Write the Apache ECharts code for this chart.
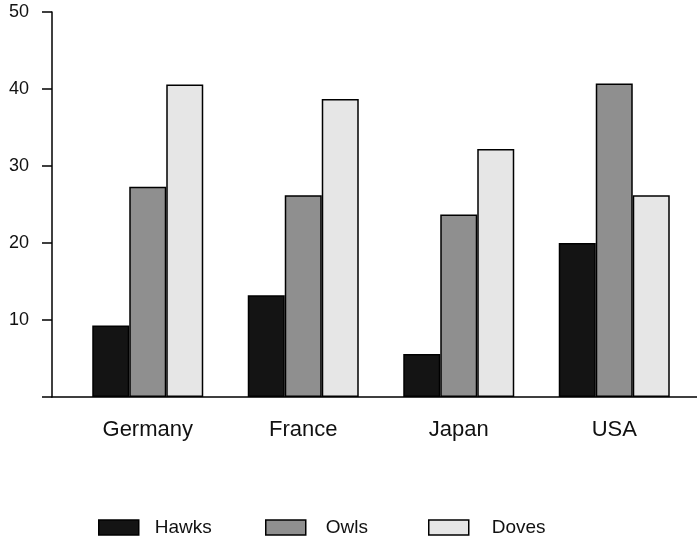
<!DOCTYPE html>
<html>
<head>
<meta charset="utf-8">
<script src="https://cdn.jsdelivr.net/npm/echarts@6/dist/echarts.min.js"></script>
<style>
html,body{margin:0;padding:0;background:#fff;}
#chart{width:697px;height:538px;}
</style>
</head>
<body>
<div id="chart"></div>
<script>
const categories = ['Germany', 'France', 'Japan', 'USA'];
const hawks = [9.3, 13.2, 5.6, 20.0];
const owls = [27.3, 26.2, 23.7, 40.7];
const doves = [40.6, 38.7, 32.2, 26.2];
const yTicks = [0, 10, 20, 30, 40, 50];
const seriesNames = ['Hawks', 'Owls', 'Doves'];

const FONT = 'Liberation Sans, Arial, Helvetica, sans-serif';
const INK = '#111';
const fills = ['#141414', '#8f8f8f', '#e6e6e6'];

const chart = echarts.init(document.getElementById('chart'), null, {renderer: 'canvas'});

function mkSeries(name, data, i) {
  return {
    name: name,
    type: 'bar',
    xAxisIndex: 0,
    yAxisIndex: 0,
    data: data,
    barWidth: 37,
    barGap: '0%',
    itemStyle: {color: fills[i], borderColor: '#000', borderWidth: 1.5},
    emphasis: {disabled: true}
  };
}

function mkLegend(name, i, left, pad) {
  return {
    data: [{name: name, itemStyle: {color: fills[i], borderColor: '#000', borderWidth: 1.5}}],
    left: left,
    top: 518,
    padding: 0,
    icon: 'rect',
    itemWidth: 40,
    itemHeight: 15,
    selectedMode: false,
    textStyle: {fontFamily: FONT, fontSize: 19, color: INK, padding: [0, 0, 0, pad]}
  };
}

chart.setOption({
  animation: false,
  backgroundColor: '#fff',
  grid: [
    {left: 70, right: 5, top: 12, bottom: 141},
    {left: 52, right: 0, top: 12, bottom: 141}
  ],
  xAxis: [
    {
      gridIndex: 0, type: 'category', data: categories,
      axisLine: {show: false}, axisTick: {show: false},
      axisLabel: {fontFamily: FONT, fontSize: 22, color: INK, margin: 22}
    },
    {
      gridIndex: 1, type: 'value', min: 0, max: 1,
      axisLine: {show: true, onZero: false, lineStyle: {color: '#000', width: 1.5}},
      axisTick: {show: false}, axisLabel: {show: false}, splitLine: {show: false}
    }
  ],
  yAxis: [
    {gridIndex: 0, type: 'value', min: yTicks[0], max: yTicks[yTicks.length - 1], interval: 10, show: false},
    {
      gridIndex: 1, type: 'value', min: yTicks[0], max: yTicks[yTicks.length - 1], interval: 10,
      axisLine: {show: true, onZero: false, lineStyle: {color: '#000', width: 1.5}},
      axisTick: {show: true, length: 10, lineStyle: {color: '#000', width: 1.5}},
      axisLabel: {fontFamily: FONT, fontSize: 18, color: INK, margin: 23,
        formatter: v => (v === 0 ? '' : String(v))},
      splitLine: {show: false}
    }
  ],
  legend: [
    mkLegend(seriesNames[0], 0, 98, 11),
    mkLegend(seriesNames[1], 1, 265, 15),
    mkLegend(seriesNames[2], 2, 428, 18)
  ],
  series: [
    mkSeries(seriesNames[0], hawks, 0),
    mkSeries(seriesNames[1], owls, 1),
    mkSeries(seriesNames[2], doves, 2)
  ]
});
</script>
</body>
</html>
